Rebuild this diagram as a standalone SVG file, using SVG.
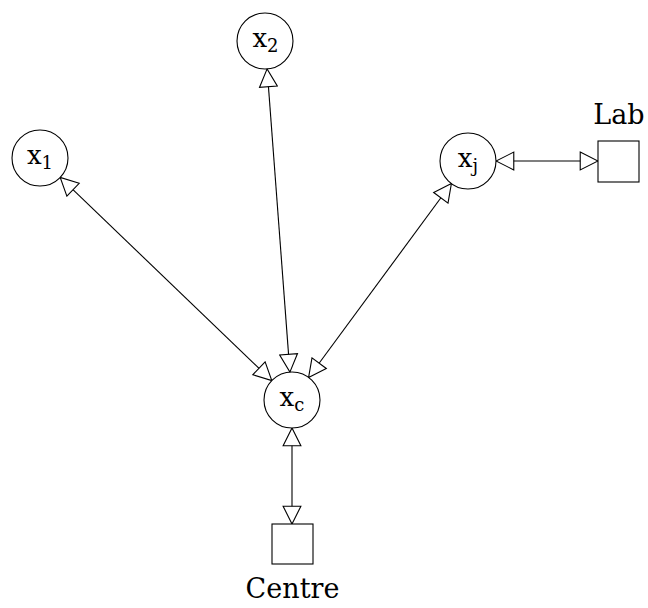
<svg xmlns="http://www.w3.org/2000/svg" width="648" height="608" viewBox="0 0 648 608">
<defs>
<marker id="arr" markerUnits="userSpaceOnUse" markerWidth="20" markerHeight="20" refX="16" refY="8" orient="auto-start-reverse" viewBox="-1 -1 18 18">
<path d="M0,0 L16,8 L0,16 Z" fill="#fff" stroke="#000" stroke-width="1"/>
</marker>
</defs>
<style>
.n{fill:#fff;stroke:#000;stroke-width:1.1}
.t{font-family:"DejaVu Serif","Liberation Serif",serif;fill:#000}
.x{font-size:26px}
.s{font-size:18px}
.l{font-size:27px}
.e{stroke:#000;stroke-width:1.1;fill:none;marker-start:url(#arr);marker-end:url(#arr)}
</style>
<rect width="648" height="608" fill="#fff"/>
<g id="connectors">
<line class="e" x1="60.2" y1="177.4" x2="271.8" y2="380.6"/>
<line class="e" x1="267.1" y1="68.9" x2="289.9" y2="372.1"/>
<line class="e" x1="451.4" y1="183.5" x2="308.6" y2="377.5"/>
<line class="e" x1="496" y1="161" x2="598" y2="161"/>
<line class="e" x1="292" y1="428" x2="292" y2="524"/>
</g>
<g id="x1">
<circle class="n" cx="40" cy="158" r="28"/>
<text class="t x" x="40" y="164" text-anchor="middle">x<tspan class="s" dy="5">1</tspan></text>
</g>
<g id="x2">
<circle class="n" cx="265" cy="41" r="28"/>
<text class="t x" x="265.5" y="47" text-anchor="middle">x<tspan class="s" dy="5">2</tspan></text>
</g>
<g id="xj">
<circle class="n" cx="468" cy="161" r="28"/>
<text class="t x" x="468" y="167" text-anchor="middle">x<tspan class="s" dy="5">j</tspan></text>
</g>
<g id="xc">
<circle class="n" cx="292" cy="400" r="28"/>
<text class="t x" x="292" y="406" text-anchor="middle">x<tspan class="s" dy="5">c</tspan></text>
</g>
<g id="lab">
<rect class="n" x="598" y="141" width="41" height="41"/>
<text class="t l" x="619" y="124" text-anchor="middle">Lab</text>
</g>
<g id="centre">
<rect class="n" x="272" y="524" width="41" height="40"/>
<text class="t l" x="292.5" y="598" text-anchor="middle">Centre</text>
</g>
</svg>
